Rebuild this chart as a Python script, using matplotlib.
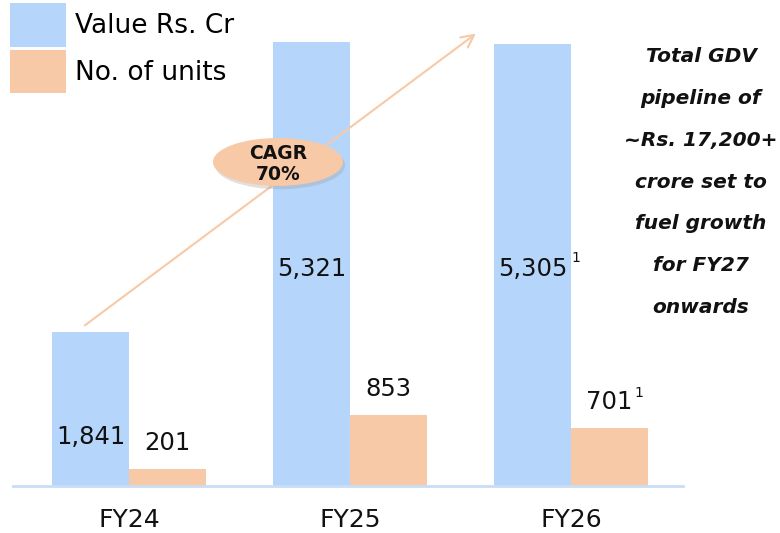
import matplotlib
matplotlib.use("Agg")
import matplotlib.pyplot as plt
from matplotlib.patches import Ellipse, Patch
import numpy as np

categories = ["FY24", "FY25", "FY26"]
value_cr = [1841, 5321, 5305]
units = [201, 853, 701]
value_labels = ["1,841", "5,321", "5,305"]
unit_labels = ["201", "853", "701"]
value_sup = ["", "", "1"]
unit_sup = ["", "", "1"]
series_names = ["Value Rs. Cr", "No. of units"]
cagr_text = "CAGR\n70%"
side_text = "Total GDV\npipeline of\n~Rs. 17,200+\ncrore set to\nfuel growth\nfor FY27\nonwards"

BLUE = "#B5D6FA"
ORANGE = "#F8C9A6"
AXIS = "#C9DDF7"
TXT = "#111111"

plt.rcParams['font.family'] = ['DejaVu Sans']

W, H = 780, 533
fig = plt.figure(figsize=(W/100, H/100), dpi=100)
ax = fig.add_axes([13/W, (H-486)/H, (683-13)/W, 486/H])
x = np.arange(len(categories))
bw = 0.348
ax.bar(x - bw/2, value_cr, bw, color=BLUE, label=series_names[0])
ax.bar(x + bw/2, units, bw, color=ORANGE, label=series_names[1])
ax.set_xlim(-0.525, 2.507)
ax.set_ylim(0, 5827)
for s in ["top", "right", "left"]:
    ax.spines[s].set_visible(False)
ax.spines["bottom"].set_color(AXIS)
ax.spines["bottom"].set_linewidth(2)
ax.set_yticks([])
ax.set_xticks(x)
ax.set_xticklabels(categories, fontsize=18, color=TXT)
ax.tick_params(axis="x", length=0, pad=15.5)

label_frac = [0.32, 0.49, 0.49]
for i in range(len(categories)):
    vy = value_cr[i] * label_frac[i]
    ax.text(x[i] - bw/2, vy, value_labels[i], ha="center", va="center",
            fontsize=17.5, color=TXT)
    uy = units[i] + 310
    ax.text(x[i] + bw/2, uy, unit_labels[i], ha="center", va="center",
            fontsize=17.5, color=TXT)
    if value_sup[i]:
        ax.annotate(value_sup[i], (x[i] - bw/2, vy), xytext=(28, 8),
                    textcoords="offset points", fontsize=10, ha="left", va="center", color=TXT)
    if unit_sup[i]:
        ax.annotate(unit_sup[i], (x[i] + bw/2, uy), xytext=(18, 6),
                    textcoords="offset points", fontsize=10, ha="left", va="center", color=TXT)

# CAGR arrow
ax.annotate("", xy=(1.58, 5444), xytext=(-0.21, 1906),
            arrowprops=dict(arrowstyle="->,head_length=0.9,head_width=0.45", color=ORANGE, lw=1.5))

# ellipse with shadow
ecx, ecy = 0.674, 3885
shadow = Ellipse((ecx + 0.01, ecy - 40), 0.588, 575, facecolor="#9a9a9a", alpha=0.3,
                 edgecolor="none", zorder=4)
ax.add_patch(shadow)
ell = Ellipse((ecx, ecy), 0.588, 575, facecolor=ORANGE, edgecolor="none", zorder=5)
ax.add_patch(ell)
ax.text(ecx, ecy - 20, cagr_text, ha="center", va="center", fontsize=13.5, fontweight="bold",
        color=TXT, zorder=6, linespacing=1.15)

# legend
fs_leg = 19
px = fs_leg * 100 / 72
handles = [Patch(facecolor=BLUE), Patch(facecolor=ORANGE)]
fig.legend(handles, series_names, loc="upper left", bbox_to_anchor=(10/W, 1 - 3/H),
           frameon=False, fontsize=fs_leg, handlelength=56/px,
           handleheight=1.3*44/px, handletextpad=9/px,
           labelspacing=3/px, borderpad=0, borderaxespad=0)

fig.text(701/W, 1 - 182/H, side_text, ha="center", va="center", fontsize=14.5,
         fontweight="bold", fontstyle="italic", color=TXT, linespacing=2.53)

fig.savefig("out.png", dpi=100)
